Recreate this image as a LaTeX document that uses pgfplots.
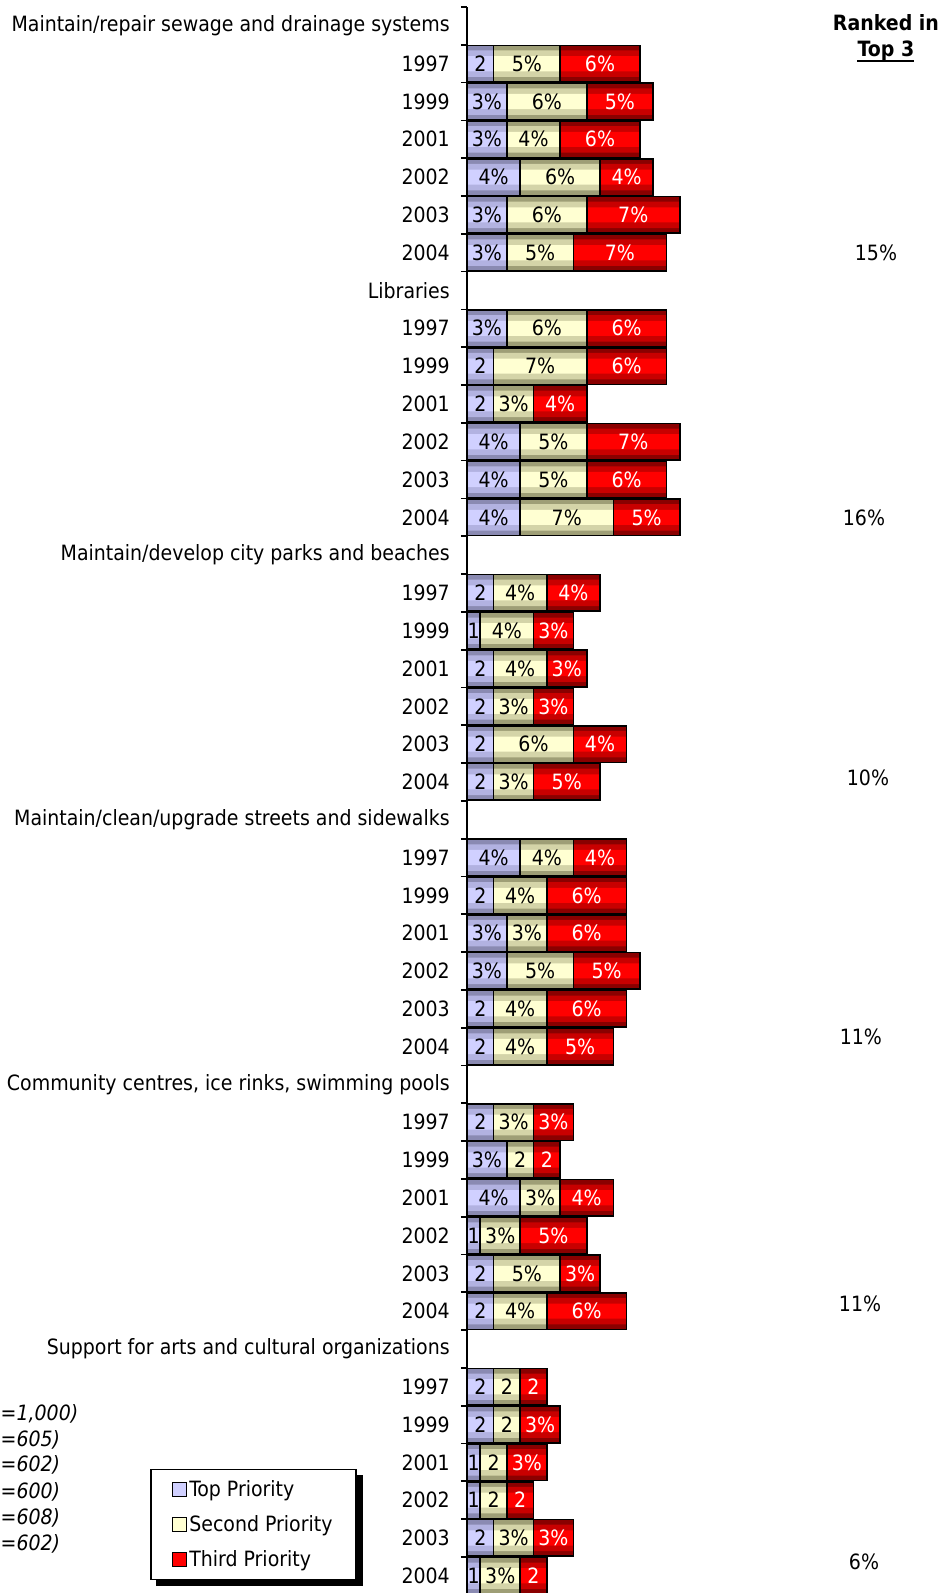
\documentclass[border=0pt]{standalone}
\usepackage{pgfplots}
\pgfplotsset{compat=1.18}
\usepackage{pgfplotstable}
\usepackage{fontspec}
\setmainfont{DejaVu Sans Condensed}
\pgfdeclarelayer{bg}
% colours: edge / mid / centre of the bar gradients
\definecolor{tpA}{RGB}{138,138,178}
\definecolor{tpB}{RGB}{178,178,225}
\definecolor{tpC}{RGB}{208,208,255}
\definecolor{spA}{RGB}{158,158,118}
\definecolor{spB}{RGB}{212,212,168}
\definecolor{spC}{RGB}{255,255,210}
\definecolor{thA}{RGB}{138,0,0}
\definecolor{thB}{RGB}{200,0,0}
\definecolor{thC}{RGB}{255,0,0}
\newcommand\cf{\fontsize{15.8}{18.5}\selectfont}
% segment label from its width (point meta, fpu float): "2" or "3%"
\newcommand\segnum[1]{\pgfmathfloattoint{#1}\let\sw\pgfmathresult
  \sw\ifnum\sw>2 \%\fi}

\pgfplotstableread{
y w
1 2
2 3
3 3
4 4
5 3
6 3
8 3
9 2
10 2
11 4
12 4
13 4
15 2
16 1
17 2
18 2
19 2
20 2
22 4
23 2
24 3
25 3
26 2
27 2
29 2
30 3
31 4
32 1
33 2
34 2
36 2
37 2
38 1
39 1
40 2
41 1
}\tA

\pgfplotstableread{
y w
1 5
2 6
3 4
4 6
5 6
6 5
8 6
9 7
10 3
11 5
12 5
13 7
15 4
16 4
17 4
18 3
19 6
20 3
22 4
23 4
24 3
25 5
26 4
27 4
29 3
30 2
31 3
32 3
33 5
34 4
36 2
37 2
38 2
39 2
40 3
41 3
}\tB

\pgfplotstableread{
y w
1 6
2 5
3 6
4 4
5 7
6 7
8 6
9 6
10 4
11 7
12 6
13 5
15 4
16 3
17 3
18 3
19 4
20 5
22 4
23 6
24 6
25 5
26 6
27 5
29 3
30 2
31 4
32 5
33 3
34 6
36 2
37 3
38 3
39 2
40 3
41 2
}\tC

\pgfplotsset{base/.style={
  at={(350.25pt,-5.25pt)}, anchor=north west,
  x=9.975pt, y=28.35pt, y dir=reverse,
  xmin=0, xmax=36, ymin=-0.5, ymax=41.5,
  xbar stacked, clip=false}}

\begin{document}
\begin{tikzpicture}
\pgfsetlayers{bg,main}
\useasboundingbox (0,0) rectangle (708.75pt,-1194.75pt);
\clip (0,0) rectangle (708.75pt,-1194.75pt);
% gradient bands (outer, middle, inner)
\begin{axis}[base, hide axis, bar width=0.97]
\addplot[draw=none, fill=tpA, forget plot] table[x=w, y=y] {\tA};
\addplot[draw=none, fill=spA, forget plot] table[x=w, y=y] {\tB};
\addplot[draw=none, fill=thA, forget plot] table[x=w, y=y] {\tC};
\end{axis}
\begin{axis}[base, hide axis, bar width=0.7]
\addplot[draw=none, fill=tpB, forget plot] table[x=w, y=y] {\tA};
\addplot[draw=none, fill=spB, forget plot] table[x=w, y=y] {\tB};
\addplot[draw=none, fill=thB, forget plot] table[x=w, y=y] {\tC};
\end{axis}
\begin{axis}[base, hide axis, bar width=0.4]
\addplot[draw=none, fill=tpC, forget plot] table[x=w, y=y] {\tA};
\addplot[draw=none, fill=spC, forget plot] table[x=w, y=y] {\tB};
\addplot[draw=none, fill=thC, forget plot] table[x=w, y=y] {\tC};
\end{axis}
% outlines, labels, axis, legend
\begin{axis}[base,
  axis x line=none, axis y line*=left,
  axis line style={line width=1.3pt, black},
  ytick={0,...,41},
  yticklabels={
    Maintain/repair sewage and drainage systems,1997,1999,2001,2002,2003,2004,
    Libraries,1997,1999,2001,2002,2003,2004,
    Maintain/develop city parks and beaches,1997,1999,2001,2002,2003,2004,
    Maintain/clean/upgrade streets and sidewalks,1997,1999,2001,2002,2003,2004,
    {Community centres, ice rinks, swimming pools},1997,1999,2001,2002,2003,2004,
    Support for arts and cultural organizations,1997,1999,2001,2002,2003,2004},
  minor ytick={-0.5,0.5,...,41.5},
  major tick length=0pt, minor tick length=4.5pt, tick align=outside,
  minor tick style={line width=1.3pt, black},
  yticklabel style={font=\cf, anchor=east, inner sep=0pt, xshift=-12.75pt},
  bar width=0.97,
  point meta=explicit,
  nodes near coords={\segnum{\pgfplotspointmeta}},
  every node near coord/.append style={font=\cf, anchor=center, inner sep=0pt},
  legend cell align=left,
  legend image code/.code={\draw[#1] (0pt,-5.25pt) rectangle (10.5pt,5.25pt);},
  legend style={name=leg, at={(axis cs:-23.83,41.12)}, anchor=south west, draw=black, line width=1.3pt, fill=white,
    font=\cf, row sep=9pt, inner xsep=15.5pt, inner ysep=6pt},
]
\addlegendimage{fill=tpC, draw=black, line width=0.8pt}
\addlegendimage{fill=spC, draw=black, line width=0.8pt}
\addlegendimage{fill=thC, draw=black, line width=0.8pt}
\addplot[draw=black, line width=1.2pt, fill=none, forget plot,
  every node near coord/.append style={text=black}] table[x=w, y=y, meta=w] {\tA};
\addplot[draw=black, line width=1.2pt, fill=none, forget plot,
  every node near coord/.append style={text=black}] table[x=w, y=y, meta=w] {\tB};
\addplot[draw=black, line width=1.2pt, fill=none, forget plot,
  every node near coord/.append style={text=white}] table[x=w, y=y, meta=w] {\tC};
\legend{Top Priority, Second Priority, Third Priority}

\node[font=\bfseries\cf] at (axis cs:31.5,-0.09) {Ranked in};
\node[font=\bfseries\cf, inner xsep=0pt] (t3) at (axis cs:31.5,0.67) {Top 3};
\node[font=\cf] at (axis cs:30.75,5.99) {15\%};
\node[font=\cf] at (axis cs:29.85,13.0) {16\%};
\node[font=\cf] at (axis cs:30.15,19.88) {10\%};
\node[font=\cf] at (axis cs:29.62,26.73) {11\%};
\node[font=\cf] at (axis cs:29.55,33.8) {11\%};
\node[font=\cf] at (axis cs:29.85,40.62) {6\%};

\node[font=\itshape\cf, anchor=west, inner sep=0pt] at (axis cs:-35.08,36.71) {=1,000)};
\node[font=\itshape\cf, anchor=west, inner sep=0pt] at (axis cs:-35.08,37.41) {=605)};
\node[font=\itshape\cf, anchor=west, inner sep=0pt] at (axis cs:-35.08,38.08) {=602)};
\node[font=\itshape\cf, anchor=west, inner sep=0pt] at (axis cs:-35.08,38.77) {=600)};
\node[font=\itshape\cf, anchor=west, inner sep=0pt] at (axis cs:-35.08,39.48) {=608)};
\node[font=\itshape\cf, anchor=west, inner sep=0pt] at (axis cs:-35.08,40.16) {=602)};
\end{axis}
\draw[line width=1.4pt] ([yshift=-3pt]t3.base west) -- ([yshift=-3pt]t3.base east);
\begin{pgfonlayer}{bg}
\fill[black] ([shift={(4.5pt,-4.5pt)}]leg.south west) rectangle ([shift={(4.5pt,-4.5pt)}]leg.north east);
\end{pgfonlayer}
\end{tikzpicture}
\end{document}
